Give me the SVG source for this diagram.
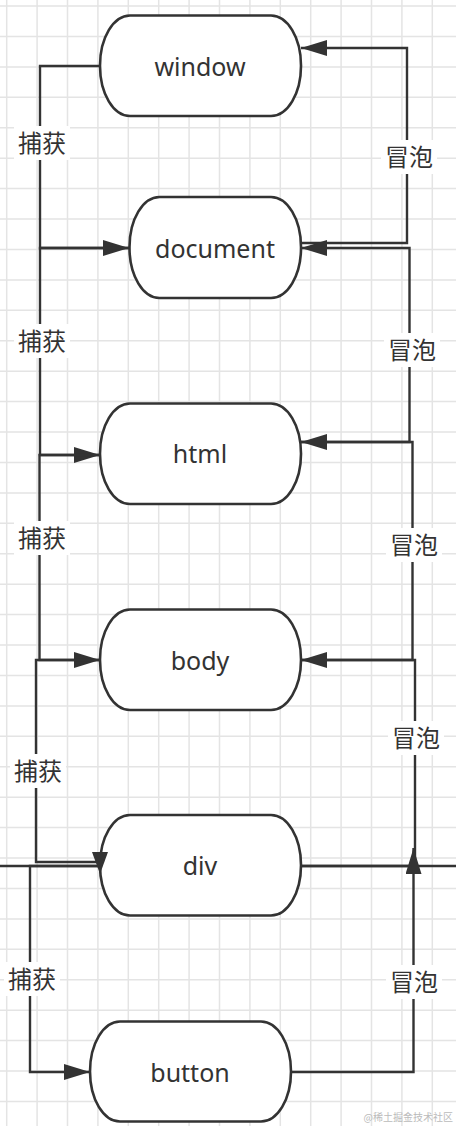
<svg xmlns="http://www.w3.org/2000/svg" width="456" height="1126" viewBox="0 0 456 1126">
<style>
.grid{fill:none;stroke:#e4e4e4;stroke-width:1.5}
.node rect{fill:#fff;stroke:#333;stroke-width:2.6}
.node text{font-family:"Noto Sans","Open Sans",sans-serif;font-size:25px;fill:#333;text-anchor:middle}
.conn path{fill:none;stroke:#333;stroke-width:2.4}
.lbl rect{fill:#fff;stroke:none}
.lbl text{font-family:"Noto Sans CJK SC","Noto Sans",sans-serif;font-size:24px;fill:#333;text-anchor:middle}
.wm{font-family:"Noto Sans CJK SC",sans-serif;font-size:10px;fill:#bbb;text-anchor:end}
</style>
<defs>
<marker id="arr" viewBox="0 0 26 16" refX="26" refY="8" markerWidth="26" markerHeight="16" markerUnits="userSpaceOnUse" orient="auto">
<path d="M0,0 L26,8 L0,16 z" fill="#333"/>
</marker>
</defs>
<rect width="456" height="1126" fill="#fff"/>
<path class="grid" d="M6.7,0V1126M37.1,0V1126M67.5,0V1126M97.9,0V1126M128.3,0V1126M158.7,0V1126M189.1,0V1126M219.5,0V1126M249.9,0V1126M280.3,0V1126M310.7,0V1126M341.1,0V1126M371.5,0V1126M401.9,0V1126M432.3,0V1126
M0,6H456M0,36.4H456M0,66.9H456M0,97.3H456M0,127.7H456M0,158.2H456M0,188.6H456M0,219H456M0,249.4H456M0,279.9H456M0,310.3H456M0,340.7H456M0,371.2H456M0,401.6H456M0,432H456M0,462.5H456M0,492.9H456M0,523.3H456M0,553.7H456M0,584.2H456M0,614.6H456M0,645H456M0,675.5H456M0,705.9H456M0,736.3H456M0,766.8H456M0,797.2H456M0,827.6H456M0,858H456M0,888.5H456M0,918.9H456M0,949.3H456M0,979.8H456M0,1010.2H456M0,1040.6H456M0,1071H456M0,1101.5H456"/>
<g id="connectors" class="conn">
<path d="M0,866H456"/>
<path d="M100,66H40V248H129" marker-end="url(#arr)"/>
<path d="M129,248H40V455H100" marker-end="url(#arr)"/>
<path d="M100,455H39.5V660H100" marker-end="url(#arr)"/>
<path d="M100,660H36V862H100"/>
<path d="M100,866H30V1072H90" marker-end="url(#arr)"/>
<path d="M301,243H407V48H301" marker-end="url(#arr)"/>
<path d="M301,442H409.5V248H301" marker-end="url(#arr)"/>
<path d="M301,660H412.5V442H301" marker-end="url(#arr)"/>
<path d="M301,866H415V660H301" marker-end="url(#arr)"/>
<path d="M291,1072H413.5V848" marker-end="url(#arr)"/>
</g>
<g id="labels" class="lbl">
<g id="lbl-c1"><rect x="14" y="126" width="56" height="34"/><text x="42" y="152">捕获</text></g>
<g id="lbl-c2"><rect x="14" y="324" width="56" height="34"/><text x="42" y="350">捕获</text></g>
<g id="lbl-c3"><rect x="14" y="521" width="56" height="34"/><text x="42" y="546.5">捕获</text></g>
<g id="lbl-c4"><rect x="10" y="754" width="56" height="34"/><text x="38" y="780">捕获</text></g>
<g id="lbl-c5"><rect x="4" y="962" width="56" height="34"/><text x="32" y="987.5">捕获</text></g>
<g id="lbl-b1"><rect x="381" y="140" width="56" height="34"/><text x="409" y="166">冒泡</text></g>
<g id="lbl-b2"><rect x="384" y="333" width="56" height="34"/><text x="412" y="359">冒泡</text></g>
<g id="lbl-b3"><rect x="386" y="528" width="56" height="34"/><text x="414" y="554">冒泡</text></g>
<g id="lbl-b4"><rect x="388" y="721" width="56" height="34"/><text x="416" y="747">冒泡</text></g>
<g id="lbl-b5"><rect x="386" y="965" width="56" height="34"/><text x="414" y="991">冒泡</text></g>
</g>
<g id="window" class="node"><rect x="100" y="15.5" width="201" height="100.5" rx="30" ry="50"/><text x="200" y="76">window</text></g>
<g id="document" class="node"><rect x="129.5" y="197" width="171.5" height="101" rx="30" ry="50"/><text x="215" y="258">document</text></g>
<g id="html" class="node"><rect x="100" y="403.5" width="201" height="100.5" rx="30" ry="50"/><text x="200" y="463">html</text></g>
<g id="body" class="node"><rect x="100" y="609.5" width="201" height="100.5" rx="30" ry="50"/><text x="200" y="670">body</text></g>
<g id="div" class="node"><rect x="100" y="815" width="201" height="100.5" rx="30" ry="50"/><text x="200" y="875">div</text></g>
<g id="button" class="node"><rect x="90" y="1021.5" width="201" height="100" rx="30" ry="50"/><text x="190" y="1082">button</text></g>
<path id="div-capture-arrowhead" d="M92,852 L100,874 L108,852 z" fill="#333"/>
<text class="wm" x="453" y="1121">@稀土掘金技术社区</text>
</svg>
